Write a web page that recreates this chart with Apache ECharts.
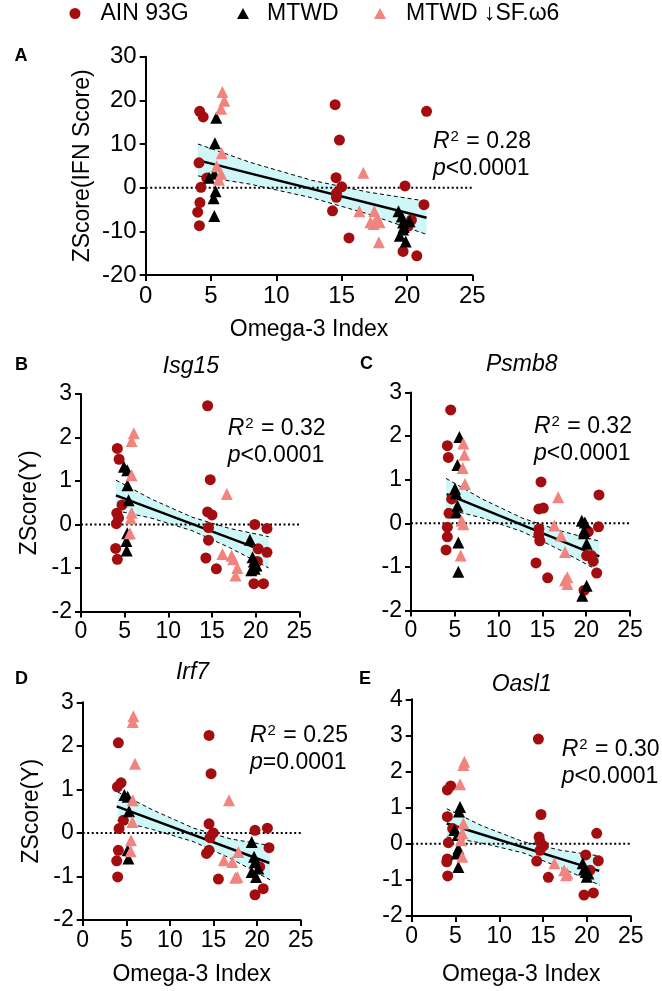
<!DOCTYPE html>
<html><head><meta charset="utf-8">
<script src="https://cdn.jsdelivr.net/npm/echarts@6/dist/echarts.min.js"></script>
<style>html,body{margin:0;padding:0;background:#fff}#c{width:662px;height:991px}</style>
</head><body><div id="c"></div>
<script>
// ---------- DATA ----------
const SERIES_NAMES = ['AIN 93G', 'MTWD', 'MTWD ↓SF.ω6'];
const X_RANGE = [0, 25, 5];
const BAND_X = [4, 8, 12.7, 17, 21.5];

// Panel A – IFN score
const A_AIN = [[4.13,17.5],[4.4,16.2],[4.08,5.7],[4.67,2.2],[4.23,0.1],[4.15,-3.4],[3.98,-5.6],[4.11,-8.7],[14.5,19.0],[14.83,10.9],[14.57,2.3],[15.0,0.2],[14.6,-1.3],[14.6,-2.2],[14.3,-5.3],[15.56,-11.5],[19.85,0.4],[20.34,-7.4],[20.1,-8.8],[19.7,-14.6],[20.75,-15.6],[21.5,17.5],[21.3,-3.9]];
const A_MTWD = [[5.4,16.0],[5.3,10.2],[5.25,3.2],[4.85,2.3],[5.35,-0.8],[5.2,-2.4],[5.25,-6.5],[19.35,-5.4],[19.6,-6.6],[19.7,-8.0],[19.75,-9.0],[20.2,-7.7],[19.7,-9.6],[19.45,-11.0],[19.9,-12.3]];
const A_PINK = [[5.87,21.9],[6.02,19.9],[5.77,18.1],[5.82,7.9],[5.44,4.9],[5.77,3.2],[5.6,1.8],[16.66,3.4],[16.35,-5.4],[17.5,-5.4],[17.7,-7.1],[17.2,-7.9],[17.9,-7.9],[17.45,-8.3],[17.85,-12.5]];
const A_FIT_X = [4.03, 21.5], A_FIT_Y = [6.26, -6.9];
const A_HI = [10.0, 5.8, 1.7, -1.0, -3.1], A_LO = [2.7, 0.8, -2.3, -6.0, -10.7];

// Panel B – Isg15
const B_AIN = [[4.16,1.75],[4.36,1.5],[4.7,0.45],[4.1,0.26],[4.3,0.15],[4.05,0.02],[3.97,-0.55],[4.16,-0.8],[14.5,2.73],[14.8,1.03],[14.5,0.29],[15.0,0.22],[14.6,-0.07],[14.6,-0.36],[14.3,-0.77],[15.5,-1.02],[19.9,0.0],[21.3,-0.09],[20.3,-0.56],[21.3,-0.64],[20.2,-0.85],[19.8,-1.36],[20.9,-1.36]];
const B_MTWD = [[4.92,1.33],[5.3,1.25],[5.32,0.9],[5.45,0.56],[5.3,-0.2],[5.2,-0.38],[5.23,-0.6],[19.35,-0.35],[19.65,-0.75],[19.8,-0.85],[20.1,-0.94],[19.9,-1.02],[19.5,-1.05]];
const B_PINK = [[6.05,2.1],[5.8,1.92],[5.8,1.13],[5.8,0.27],[5.7,0.14],[5.6,-0.2],[16.7,0.7],[16.2,-0.68],[17.25,-0.72],[17.45,-0.8],[17.9,-1.0],[17.7,-1.17]];
const B_FIT_X = [4.0, 21.4], B_FIT_Y = [0.67, -0.64];
const B_HI = [1.02, 0.59, 0.17, -0.09, -0.28], B_LO = [0.32, 0.15, -0.14, -0.53, -1.0];

// Panel C – Psmb8
const C_AIN = [[4.53,2.6],[4.15,1.78],[4.26,1.51],[4.64,0.56],[4.34,0.23],[4.15,-0.09],[4.15,-0.31],[4.0,-0.61],[14.84,0.95],[14.6,0.33],[15.1,0.35],[14.6,-0.13],[14.6,-0.26],[14.7,-0.4],[14.27,-0.91],[15.6,-1.25],[21.46,0.65],[21.4,-0.08],[20.24,-0.19],[20.05,-0.74],[20.6,-0.74],[20.8,-0.87],[21.2,-1.14],[19.75,-1.54]];
const C_MTWD = [[5.52,1.98],[5.3,1.34],[5.02,0.79],[5.14,0.69],[5.3,0.4],[5.2,0.25],[5.4,-0.44],[5.4,-1.11],[19.5,0.06],[19.85,0.02],[19.75,-0.17],[19.75,-0.23],[20.05,-0.47],[20.05,-1.43],[19.55,-1.66]];
const C_PINK = [[5.97,1.83],[6.1,1.57],[5.9,1.27],[6.16,0.9],[5.78,0.06],[5.97,-0.02],[5.67,-0.74],[16.8,0.6],[16.36,-0.05],[17.12,-0.28],[17.58,-0.66],[17.85,-1.24],[17.58,-1.31],[17.85,-1.39]];
const C_FIT_X = [4.07, 21.5], C_FIT_Y = [0.67, -0.76];
const C_HI = [1.03, 0.57, 0.12, -0.17, -0.41], C_LO = [0.33, 0.13, -0.19, -0.61, -1.1];

// Panel D – Irf7
const D_AIN = [[4.09,2.07],[14.49,2.24],[14.72,1.36],[4.4,1.15],[3.98,1.06],[4.66,0.29],[4.17,0.1],[4.09,-0.4],[3.9,-0.64],[4.01,-1.01],[14.49,0.21],[14.98,0.0],[14.6,-0.11],[14.49,-0.4],[14.2,-0.47],[15.56,-1.06],[19.76,0.06],[21.18,0.11],[21.37,-0.34],[20.3,-0.78],[20.7,-1.28],[19.76,-1.42]];
const D_MTWD = [[4.78,0.87],[5.16,0.83],[5.31,0.5],[5.16,-0.4],[5.24,-0.59],[19.38,-0.21],[19.65,-0.55],[19.76,-0.67],[19.38,-0.9],[19.88,-1.01],[20.14,-0.82]];
const D_PINK = [[5.81,2.68],[5.73,2.55],[6.0,1.59],[5.73,0.75],[5.7,0.25],[5.54,-0.17],[5.5,-0.42],[16.78,0.75],[16.2,-0.63],[17.16,-0.67],[17.85,-0.44],[17.74,-1.01],[17.5,-1.03]];
const D_FIT_X = [3.9, 21.4], D_FIT_Y = [0.61, -0.69];
const D_HI = [0.94, 0.53, 0.11, -0.14, -0.29], D_LO = [0.28, 0.08, -0.2, -0.59, -1.08];

// Panel E – Oasl1
const E_AIN = [[14.46,2.9],[14.76,0.81],[4.45,1.6],[4.07,1.49],[4.07,0.75],[4.68,0.42],[4.19,0.03],[4.07,-0.42],[4.0,-0.5],[4.11,-0.89],[14.54,0.19],[14.65,0.06],[15.03,-0.06],[14.65,-0.18],[14.27,-0.48],[15.6,-0.93],[21.12,0.29],[19.86,-0.31],[21.3,-0.47],[20.36,-0.73],[19.67,-1.42],[20.74,-1.36]];
const E_MTWD = [[5.52,1.02],[5.4,0.89],[4.87,0.38],[5.25,0.24],[5.33,-0.13],[5.14,-0.27],[5.33,-0.64],[19.52,-0.54],[19.67,-0.71],[19.9,-0.78],[20.17,-0.82],[19.98,-0.91]];
const E_PINK = [[6.01,2.27],[5.9,2.18],[5.52,1.65],[5.9,0.56],[5.78,0.29],[5.63,0.1],[5.78,-0.36],[16.29,-0.54],[17.4,-0.73],[17.62,-0.87],[17.77,-0.82]];
const E_FIT_X = [4.0, 21.4], E_FIT_Y = [0.56, -0.75];
const E_HI = [0.97, 0.5, 0.06, -0.18, -0.34], E_LO = [0.19, 0.02, -0.25, -0.66, -1.15];

const PANEL_LETTERS = ['A', 'B', 'C', 'D', 'E'];
const GENE_TITLES = ['', 'Isg15', 'Psmb8', 'Irf7', 'Oasl1'];
const R2_TEXT = ['0.28', '0.32', '0.32', '0.25', '0.30'];
const P_TEXT = ['<0.0001', '<0.0001', '<0.0001', '=0.0001', '<0.0001'];
const Y_RANGES = [[-20, 30, 10], [-2, 3, 1], [-2, 3, 1], [-2, 3, 1], [-2, 4, 1]];
const X_NAMES = ['Omega-3 Index', '', '', 'Omega-3 Index', 'Omega-3 Index'];
const Y_NAMES = ['ZScore(IFN Score)', 'ZScore(Y)', '', 'ZScore(Y)', ''];

// ---------- LAYOUT / STYLE ----------
const FONT = '"Liberation Sans", Arial, Helvetica, sans-serif';
const RED = '#a30d0f', BLACK = '#000000', PINK = '#f2847f', BAND = '#cff7f8';

const panels = [
  {ain:A_AIN, mtwd:A_MTWD, pink:A_PINK, fx:A_FIT_X, fy:A_FIT_Y, hi:A_HI, lo:A_LO},
  {ain:B_AIN, mtwd:B_MTWD, pink:B_PINK, fx:B_FIT_X, fy:B_FIT_Y, hi:B_HI, lo:B_LO},
  {ain:C_AIN, mtwd:C_MTWD, pink:C_PINK, fx:C_FIT_X, fy:C_FIT_Y, hi:C_HI, lo:C_LO},
  {ain:D_AIN, mtwd:D_MTWD, pink:D_PINK, fx:D_FIT_X, fy:D_FIT_Y, hi:D_HI, lo:D_LO},
  {ain:E_AIN, mtwd:E_MTWD, pink:E_PINK, fx:E_FIT_X, fy:E_FIT_Y, hi:E_HI, lo:E_LO}
];

const layout = [
  {grid:{left:145.7, top:56.7, width:326.6, height:218.3}, tick:24, xGap:43, yGap:52,
   letter:[14.5, 47], title:null, r2:[433, 128.5]},
  {grid:{left:81, top:394, width:218.3, height:217.5}, tick:23, xGap:43, yGap:40,
   letter:[15, 356], title:[191, 353], r2:[227.7, 415.5]},
  {grid:{left:411, top:392.5, width:219, height:218}, tick:23, xGap:43, yGap:40,
   letter:[360, 355], title:[521.7, 351], r2:[534, 413]},
  {grid:{left:82.7, top:702.3, width:218, height:217.7}, tick:23, xGap:43, yGap:40,
   letter:[15, 670], title:[192.5, 659], r2:[250, 722]},
  {grid:{left:411.7, top:699.3, width:219, height:216.7}, tick:23, xGap:47, yGap:40,
   letter:[359, 670], title:[521.7, 671], r2:[561.7, 736]}
];

const grid = [], xAxis = [], yAxis = [], series = [], title = [];

function axisBase(i, fs) {
  return {
    gridIndex: i, type: 'value',
    axisLine: {show: true, onZero: false, lineStyle: {color: '#000', width: 2}},
    axisTick: {show: true, length: 6, lineStyle: {color: '#000', width: 2}},
    axisLabel: {color: '#000', fontSize: fs, fontFamily: FONT, margin: 9, showMinLabel: true, showMaxLabel: true},
    splitLine: {show: false},
    nameTextStyle: {color: '#000', fontSize: 23, fontFamily: FONT},
    nameLocation: 'middle'
  };
}

panels.forEach((p, i) => {
  const L = layout[i];
  grid.push(Object.assign({containLabel: false}, L.grid));
  xAxis.push(Object.assign(axisBase(i, L.tick), {
    min: X_RANGE[0], max: X_RANGE[1], interval: X_RANGE[2],
    name: X_NAMES[i], nameGap: L.xGap
  }));
  yAxis.push(Object.assign(axisBase(i, L.tick), {
    min: Y_RANGES[i][0], max: Y_RANGES[i][1], interval: Y_RANGES[i][2],
    name: Y_NAMES[i], nameGap: L.yGap
  }));

  // confidence band (polygon through the axis scales)
  series.push({
    type: 'custom', xAxisIndex: i, yAxisIndex: i, silent: true, z: 1,
    data: [[BAND_X[0], p.hi[0]]],
    renderItem: (params, api) => {
      const pts = [];
      BAND_X.forEach((x, j) => pts.push(api.coord([x, p.hi[j]])));
      for (let j = BAND_X.length - 1; j >= 0; j--) pts.push(api.coord([BAND_X[j], p.lo[j]]));
      return {type: 'polygon', shape: {points: pts}, style: {fill: BAND}};
    }
  });
  // dashed CI lines
  [p.hi, p.lo].forEach(arr => {
    series.push({
      type: 'line', xAxisIndex: i, yAxisIndex: i, silent: true, z: 2, symbol: 'none',
      data: BAND_X.map((x, j) => [x, arr[j]]),
      lineStyle: {color: '#000', width: 1, type: [4, 3]}
    });
  });
  // zero dotted line
  series.push({
    type: 'line', xAxisIndex: i, yAxisIndex: i, silent: true, z: 3, symbol: 'none',
    data: [[X_RANGE[0], 0], [X_RANGE[1], 0]],
    lineStyle: {color: '#000', width: 2, type: [2, 2.5]}
  });
  // fit line
  series.push({
    type: 'line', xAxisIndex: i, yAxisIndex: i, silent: true, z: 3, symbol: 'none',
    data: p.fx.map((x, j) => [x, p.fy[j]]),
    lineStyle: {color: '#000', width: 2.5}
  });
  // scatter groups
  series.push({name: SERIES_NAMES[0], type: 'scatter', xAxisIndex: i, yAxisIndex: i, z: 5,
    symbol: 'circle', symbolSize: 11, itemStyle: {color: RED, opacity: 1}, data: p.ain});
  series.push({name: SERIES_NAMES[1], type: 'scatter', xAxisIndex: i, yAxisIndex: i, z: 5,
    symbol: 'triangle', symbolSize: 12, itemStyle: {color: BLACK, opacity: 1}, data: p.mtwd});
  series.push({name: SERIES_NAMES[2], type: 'scatter', xAxisIndex: i, yAxisIndex: i, z: 5,
    symbol: 'triangle', symbolSize: 12, itemStyle: {color: PINK, opacity: 1}, data: p.pink});

  // panel letter
  title.push({text: PANEL_LETTERS[i], left: L.letter[0], top: L.letter[1], padding: 0,
    textStyle: {fontFamily: FONT, fontSize: 18, fontWeight: 'bold', color: '#000', lineHeight: 18}});
  // gene title
  if (L.title) {
    title.push({text: GENE_TITLES[i], left: L.title[0], top: L.title[1], textAlign: 'center', padding: 0,
      textStyle: {fontFamily: FONT, fontSize: 23, fontStyle: 'italic', fontWeight: 'normal', color: '#000', lineHeight: 28}});
  }
  // R^2 and p
  title.push({
    text: '{it|R}{sup|2}{n| = ' + R2_TEXT[i] + '}\n{it|p}{n|' + P_TEXT[i] + '}',
    left: L.r2[0], top: L.r2[1], padding: 0,
    textStyle: {
      fontFamily: FONT, fontSize: 23, color: '#000', fontWeight: 'normal', lineHeight: 27,
      rich: {
        it: {fontFamily: FONT, fontSize: 23, fontStyle: 'italic', color: '#000', lineHeight: 27},
        n: {fontFamily: FONT, fontSize: 23, color: '#000', lineHeight: 27},
        sup: {fontFamily: FONT, fontSize: 15, color: '#000', lineHeight: 15, verticalAlign: 'top', padding: [1, 1, 0, 1]}
      }
    }
  });
});

const legendCommon = {
  top: 2, itemHeight: 11, selectedMode: false, padding: 0
};
const legend = [
  Object.assign({}, legendCommon, {left: 69.5, itemWidth: 11,
    textStyle: {fontFamily: FONT, fontSize: 23, color: '#000', padding: [0, 0, 0, 15]},
    data: [{name: SERIES_NAMES[0], icon: 'circle'}]}),
  Object.assign({}, legendCommon, {left: 237, itemWidth: 12,
    textStyle: {fontFamily: FONT, fontSize: 23, color: '#000', padding: [0, 0, 0, 13]},
    data: [{name: SERIES_NAMES[1], icon: 'triangle'}]}),
  Object.assign({}, legendCommon, {left: 374, itemWidth: 12,
    textStyle: {fontFamily: FONT, fontSize: 23, color: '#000', padding: [0, 0, 0, 15]},
    data: [{name: SERIES_NAMES[2], icon: 'triangle'}]})
];

const chart = echarts.init(document.getElementById('c'), null, {renderer: 'canvas'});
chart.setOption({
  backgroundColor: '#ffffff',
  animation: false,
  title, legend, grid, xAxis, yAxis, series
});
</script>
</body></html>
